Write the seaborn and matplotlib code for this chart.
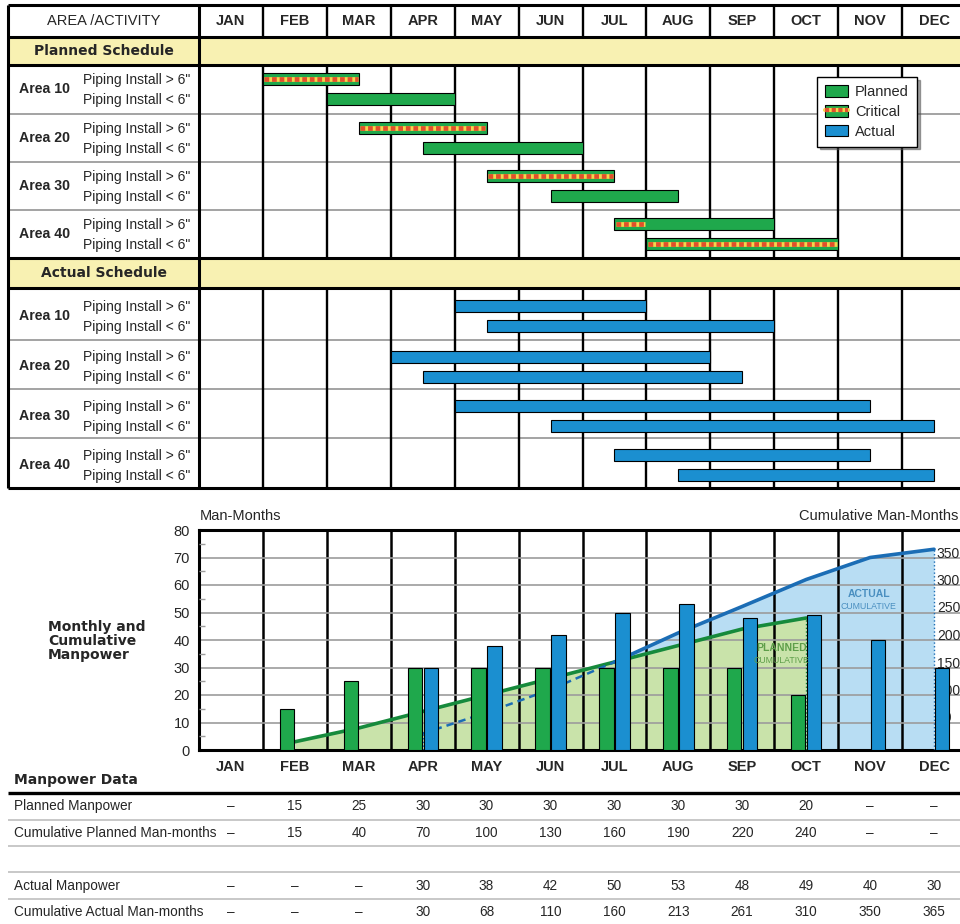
import numpy as np
import pandas as pd
import matplotlib
matplotlib.use("Agg")
import matplotlib.pyplot as plt
import seaborn as sns
from matplotlib.patches import Patch
from matplotlib.lines import Line2D
from matplotlib.legend_handler import HandlerTuple

# ---------------- data ----------------
months = ["JAN", "FEB", "MAR", "APR", "MAY", "JUN",
          "JUL", "AUG", "SEP", "OCT", "NOV", "DEC"]
areas = ["Area 10", "Area 20", "Area 30", "Area 40"]
activities = ['Piping Install > 6"', 'Piping Install < 6"']

# schedule bars, in months from 1 Jan (one entry per area/activity row)
planned_start = [1.0, 2.0, 2.5, 3.5, 4.5, 5.5, 6.5, 7.0]
planned_end = [2.5, 4.0, 4.5, 6.0, 6.5, 7.5, 9.0, 10.0]
critical_start = [1.0, np.nan, 2.5, np.nan, 4.5, np.nan, 6.5, 7.0]
critical_end = [2.5, np.nan, 4.5, np.nan, 6.5, np.nan, 7.0, 10.0]
actual_start = [4.0, 4.5, 3.0, 3.5, 4.0, 5.5, 6.5, 7.5]
actual_end = [7.0, 9.0, 8.0, 8.5, 10.5, 11.5, 10.5, 11.5]

# manpower
planned_manpower = [None, 15, 25, 30, 30, 30, 30, 30, 30, 20, None, None]
cum_planned = [None, 15, 40, 70, 100, 130, 160, 190, 220, 240, None, None]
actual_manpower = [None, None, None, 30, 38, 42, 50, 53, 48, 49, 40, 30]
cum_actual = [None, None, None, 30, 68, 110, 160, 213, 261, 310, 350, 365]

left_ticks = list(range(0, 90, 10))
right_ticks = list(range(0, 400, 50))
table_labels = ["Planned Manpower", "Cumulative Planned Man-months", "",
                "Actual Manpower", "Cumulative Actual Man-months"]
table_series = [planned_manpower, cum_planned, None, actual_manpower, cum_actual]

# ---------------- style ----------------
sns.set_style("white")
plt.rcParams["font.family"] = ["Liberation Sans", "DejaVu Sans"]
HEAVY = ["DejaVu Sans"]
NARROW = ["DejaVu Sans Condensed", "Liberation Sans Narrow", "Liberation Sans"]

GREEN = "#1fa84c"
BLUE = "#1b8fd0"
GREEN_LINE = "#168a3c"
BLUE_LINE = "#1b6db5"
GREEN_FILL = "#c9e3aa"
BLUE_FILL = "#b8ddf3"
YELLOW_ROW = "#f8f1b2"
STRIPE_Y = "#f5d64c"
STRIPE_R = "#e0502b"
GRAY = "#9c9c9c"

W, H = 960, 924
fig = plt.figure(figsize=(W / 100, H / 100), dpi=100)


def fx(px):
    return px / W


def fy(py):
    return 1 - py / H


X0, MW = 199.0, 63.9


def mx(px):
    return (px - X0) / MW


# ---------------- Gantt ----------------
axg = fig.add_axes([fx(8), fy(488), (966 - 8) / W, (488 - 5) / H])
axg.set_xlim(mx(8), 12)
axg.set_ylim(488, 5)
axg.axis("off")

p_bounds = [65, 113.5, 162, 210, 258]
a_bounds = [288, 340, 389, 438, 488]
for top, bot in ((37, 65), (258, 288)):
    axg.axhspan(top, bot, color=YELLOW_ROW, lw=0, zorder=0)

axg.hlines(p_bounds[1:-1] + a_bounds[1:-1], mx(8), 12, colors=GRAY, lw=1.3, zorder=1)
axg.hlines([5, 37, 65, 258, 288, 488], mx(8), 12, colors="black", lw=2.2,
           clip_on=False, zorder=2)
axg.vlines([mx(8), 0], 5, 488, colors="black", lw=2.2, clip_on=False, zorder=2)
for k in range(1, 12):
    axg.vlines([k, k, k], [5, 65, 288], [37, 258, 488], colors="black", lw=1.7,
               zorder=2)


def sub_rows(bounds, shift):
    ys = []
    for t, b in zip(bounds[:-1], bounds[1:]):
        c = (t + b) / 2 + shift
        ys += [c - 10, c + 10]
    return ys


p_rows = sub_rows(p_bounds, 0)
a_rows = sub_rows(a_bounds, 2)

ps, pe = np.array(planned_start), np.array(planned_end)
axg.barh(p_rows, pe - ps, left=ps, height=12, color=GREEN, edgecolor="black",
         lw=0.8, zorder=3)
cs, ce = np.array(critical_start), np.array(critical_end)
msk = ~np.isnan(cs)
yc = np.array(p_rows)[msk]
axg.hlines(yc, cs[msk] + 0.02, ce[msk] - 0.02, colors=STRIPE_Y, lw=3.4, zorder=4)
axg.hlines(yc, cs[msk] + 0.02, ce[msk] - 0.02, colors=STRIPE_R, lw=3.4,
           linestyles=[(0, (1.0, 0.6))], zorder=5)
as_, ae = np.array(actual_start), np.array(actual_end)
axg.barh(a_rows, ae - as_, left=as_, height=12, color=BLUE, edgecolor="black",
         lw=0.8, zorder=3)

axg.text(mx(103.5), 21, "AREA /ACTIVITY", ha="center", va="center", fontsize=10.5)
for i, mname in enumerate(months):
    axg.text(i + 0.5, 21, mname, ha="center", va="center", fontsize=10.5,
             fontweight="bold")
axg.text(mx(103.5), 51, "Planned Schedule", family=HEAVY, fontweight="bold",
         fontsize=10, ha="center", va="center")
axg.text(mx(103.5), 273, "Actual Schedule", family=HEAVY, fontweight="bold",
         fontsize=10, ha="center", va="center")
for bounds, rows, shift in ((p_bounds, p_rows, 0), (a_bounds, a_rows, 2)):
    for k, area in enumerate(areas):
        c = (bounds[k] + bounds[k + 1]) / 2 + shift
        axg.text(mx(19), c, area, fontweight="bold", fontsize=10.2, va="center")
        for j, act in enumerate(activities):
            axg.text(mx(83), rows[2 * k + j] + 1, act, fontsize=10, va="center")

h_planned = Patch(facecolor=GREEN, edgecolor="black", lw=0.8)
h_crit = (Patch(facecolor=GREEN, edgecolor="black", lw=0.8),
          Line2D([], [], color=STRIPE_Y, lw=3),
          Line2D([], [], color=STRIPE_R, lw=3, dashes=(1.0, 0.6)))
h_actual = Patch(facecolor=BLUE, edgecolor="black", lw=0.8)
leg = fig.legend([h_planned, h_crit, h_actual], ["Planned", "Critical", "Actual"],
                 handler_map={tuple: HandlerTuple(ndivide=1, pad=0)},
                 loc="upper left", bbox_to_anchor=(fx(817), fy(77)),
                 frameon=True, fancybox=False, shadow=True, edgecolor="black",
                 framealpha=1, fontsize=10.5, handlelength=1.6, handleheight=0.85,
                 handletextpad=0.45, labelspacing=0.4, borderpad=0.55,
                 borderaxespad=0)
leg.get_frame().set_linewidth(1)

# ---------------- manpower chart ----------------
ax_cum = fig.add_axes([fx(199), fy(750), (966 - 199) / W, 220 / H])
ax_bar = ax_cum.twinx()

rows = []
for mname, v in zip(months, planned_manpower):
    if v is not None:
        rows.append((mname, "Planned", v))
for mname, v in zip(months, actual_manpower):
    if v is not None:
        rows.append((mname, "Actual", v))
df = pd.DataFrame(rows, columns=["month", "series", "value"])
sns.barplot(data=df, x="month", y="value", hue="series", order=months,
            hue_order=["Planned", "Actual"], palette=[GREEN, BLUE], width=0.5,
            gap=0.1, edgecolor="black", linewidth=0.8, errorbar=None,
            legend=False, ax=ax_bar, saturation=1)
ax_bar.set_ylim(0, 80)
ax_bar.set_xlabel("")
ax_bar.set_ylabel("")

idx_p = [i for i, v in enumerate(cum_planned) if v is not None]
val_p = [cum_planned[i] for i in idx_p]
idx_a = [i for i, v in enumerate(cum_actual) if v is not None]
val_a = [cum_actual[i] for i in idx_a]

ax_cum.fill_between(idx_a, val_a, color=BLUE_FILL, lw=0, zorder=1)
ax_cum.fill_between(idx_p, val_p, color=GREEN_FILL, lw=0, zorder=1.1)

sns.lineplot(x=idx_p, y=val_p, ax=ax_cum, color=GREEN_LINE, lw=2.6, zorder=3)
below = [i for i in idx_a if cum_planned[i] is not None and cum_actual[i] <= cum_planned[i]]
above = [i for i in idx_a if i >= max(below)]
sns.lineplot(x=below, y=[cum_actual[i] for i in below], ax=ax_cum,
             color=BLUE_LINE, lw=1.8, linestyle=(0, (3, 2)), zorder=3)
sns.lineplot(x=above, y=[cum_actual[i] for i in above], ax=ax_cum,
             color=BLUE_LINE, lw=2.6, zorder=3.1)
ax_cum.vlines(idx_p[-1], 0, val_p[-1], colors=GREEN_LINE, linestyles=":", lw=1, zorder=3)
ax_cum.vlines([idx_a[0], idx_a[-1]], 0, [val_a[0], val_a[-1]], colors=BLUE_LINE,
              linestyles=":", lw=1, zorder=3)

# area labels (drawn on the bar axes so they stay above the bars)
ax_bar.text(8.62, 37.2, "PLANNED", ha="center", va="center", color="#5e9e4a",
            fontsize=7.5, fontweight="bold", family=NARROW, zorder=5)
ax_bar.text(8.62, 32.6, "CUMULATIVE", ha="center", va="center", color="#5e9e4a",
            fontsize=6.3, family=NARROW, zorder=5)
ax_bar.text(9.98, 56.8, "ACTUAL", ha="center", va="center", color="#4a8fc0",
            fontsize=7.5, fontweight="bold", family=NARROW, zorder=5)
ax_bar.text(9.98, 52.2, "CUMULATIVE", ha="center", va="center", color="#4a8fc0",
            fontsize=6.3, family=NARROW, zorder=5)

ax_cum.set_ylim(0, 400)
ax_cum.set_xlim(-0.5, len(months) - 0.5)
ax_cum.set_xticks(range(len(months)))
ax_cum.set_xticklabels(months, fontweight="bold", fontsize=10.5)
ax_cum.set_xticks(np.arange(0.5, len(months) - 1, 1), minor=True)
ax_cum.tick_params(axis="x", which="both", length=0, pad=7)
ax_cum.set_axisbelow("line")
ax_cum.grid(False)
ax_cum.grid(axis="x", which="minor", color="black", lw=1.8)
ax_cum.set_yticks(right_ticks)
ax_cum.grid(axis="y", which="major", color=GRAY, lw=1.2)
ax_cum.yaxis.tick_right()
ax_cum.tick_params(axis="y", length=0, pad=-21, labelsize=10, labelright=True,
                   labelleft=False)
for lab in ax_cum.get_yticklabels():
    lab.set_va("baseline")
ax_cum.set_xlabel("")
ax_cum.set_ylabel("")
for side in ("top", "left", "bottom"):
    ax_cum.spines[side].set_visible(True)
    ax_cum.spines[side].set_color("black")
    ax_cum.spines[side].set_linewidth(2.2)
ax_cum.spines["right"].set_visible(False)

ax_bar.yaxis.tick_left()
ax_bar.set_yticks(left_ticks)
ax_bar.set_yticks(range(5, 80, 10), minor=True)
ax_bar.tick_params(axis="y", which="major", length=0, pad=6.5, labelsize=10.5,
                   labelleft=True, labelright=False)
ax_bar.tick_params(axis="y", which="minor", length=4, width=1, direction="in",
                   color=GRAY, left=True, right=False)
ax_bar.grid(False)
for s in ax_bar.spines.values():
    s.set_visible(False)

fig.text(fx(200), fy(516), "Man-Months", va="center", ha="left", fontsize=10.5)
fig.text(fx(958), fy(516), "Cumulative Man-Months", va="center", ha="right",
         fontsize=10.5)
fig.text(fx(48), fy(641), "Monthly and\nCumulative\nManpower", va="center",
         ha="left", fontsize=10, family=HEAVY, fontweight="bold", linespacing=1.0)

# ---------------- table ----------------
axt = fig.add_axes([0, fy(924), 1, (924 - 770) / H])
axt.set_xlim(mx(0), mx(960))
axt.set_ylim(924, 770)
axt.axis("off")
axt.text(mx(14), 780, "Manpower Data", family=HEAVY, fontweight="bold",
         fontsize=10, va="center", ha="left")
axt.hlines(793, mx(8), mx(960), colors="black", lw=2.4)
axt.hlines([820, 846, 872, 899], mx(8), mx(960), colors="#c4c4c4", lw=1.3)
row_y = [806, 833, 859, 886, 912]
for y, lab, series in zip(row_y, table_labels, table_series):
    if series is None:
        continue
    axt.text(mx(14), y, lab, fontsize=9.8, va="center", ha="left")
    for i, v in enumerate(series):
        axt.text(i + 0.5, y, "–" if v is None else str(v), fontsize=9.8,
                 va="center", ha="center")

fig.savefig("out.png", dpi=100)
